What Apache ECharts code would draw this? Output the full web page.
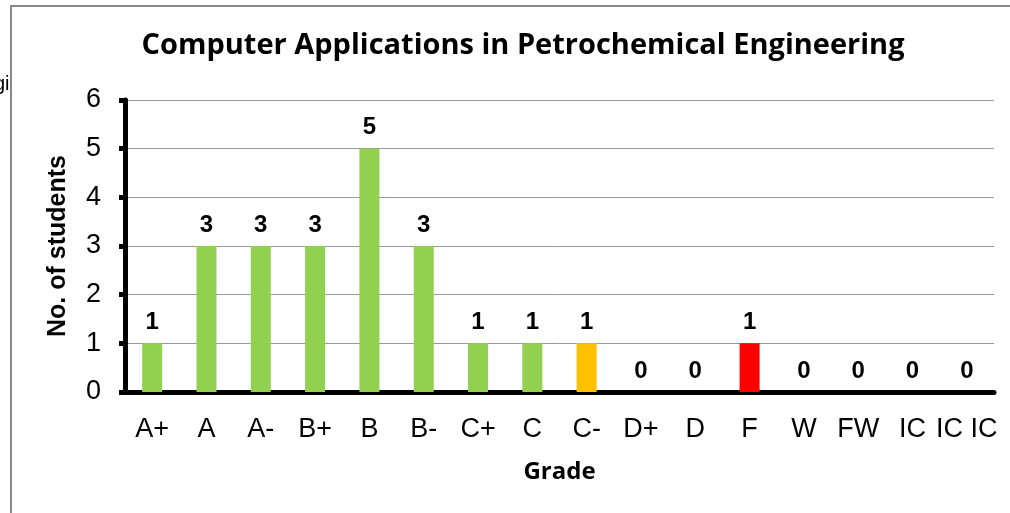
<!DOCTYPE html>
<html>
<head>
<meta charset="utf-8">
<script src="https://cdn.jsdelivr.net/npm/echarts@6/dist/echarts.min.js"></script>
<style>
  html, body { margin: 0; padding: 0; background: #fff; }
  #chart { width: 1010px; height: 513px; }
</style>
</head>
<body>
<div id="chart"></div>
<script>
// grades on x axis (last label in the original sheet reads "IC IC")
const grades = ["A+", "A", "A-", "B+", "B", "B-", "C+", "C", "C-", "D+", "D", "F", "W", "FW", "IC", "IC IC"];
const students = [1, 3, 3, 3, 5, 3, 1, 1, 1, 0, 0, 1, 0, 0, 0, 0];
const yTicks = [0, 1, 2, 3, 4, 5, 6];

const GREEN = "#92D050";
// colour per grade, C- orange and F red like the original
const barColors = { "C-": "#FFC000", "F": "#FF0000" };

const chart = echarts.init(document.getElementById("chart"));

const option = {
  animation: false,
  title: {
    text: "Computer Applications in Petrochemical Engineering",
    left: 518,
    textAlign: "center",
    top: 26,
    textStyle: {
      fontFamily: "Open Sans",
      fontWeight: "bold",
      fontSize: 29,
      color: "#000"
    }
  },
  grid: {
    left: 125,
    right: 16,
    top: 100,
    bottom: 121
  },
  xAxis: {
    type: "category",
    data: grades,
    name: "Grade",
    nameLocation: "middle",
    nameGap: 68,
    nameTextStyle: {
      fontFamily: "Open Sans",
      fontWeight: "bold",
      fontSize: 24,
      color: "#000"
    },
    axisLine: { lineStyle: { color: "#000", width: 5 } },
    axisTick: { alignWithLabel: false, length: 6, lineStyle: { color: "#000", width: 5 } },
    axisLabel: {
      interval: 0,
      margin: 24,
      fontFamily: "Liberation Sans",
      fontSize: 27,
      color: "#000"
    },
    splitLine: { show: false }
  },
  yAxis: {
    type: "value",
    min: yTicks[0],
    max: yTicks[yTicks.length - 1],
    interval: 1,
    name: "No. of students",
    nameLocation: "middle",
    nameGap: 54,
    nameTextStyle: {
      fontFamily: "Liberation Sans",
      fontWeight: "bold",
      fontSize: 25,
      color: "#000"
    },
    axisLine: { show: true, lineStyle: { color: "#000", width: 5 } },
    axisTick: { show: true, length: 6, lineStyle: { color: "#000", width: 5 } },
    axisLabel: {
      margin: 24,
      fontFamily: "Liberation Sans",
      fontSize: 27,
      color: "#000"
    },
    splitLine: { lineStyle: { color: "#999", width: 1 } }
  },
  series: [
    {
      type: "bar",
      barWidth: 20,
      data: students.map((v, i) => ({
        value: v,
        itemStyle: { color: barColors[grades[i]] || GREEN }
      })),
      label: {
        show: true,
        position: "top",
        distance: 9,
        fontFamily: "Liberation Sans",
        fontWeight: "bold",
        fontSize: 24,
        color: "#000"
      }
    }
  ],
  graphic: [
    // sheet frame, the chart was cut from a bigger page
    {
      type: "polyline",
      shape: { points: [[11, 513], [11, 6], [1010, 6]] },
      style: { stroke: "#888", lineWidth: 2, fill: null }
    },
    {
      type: "text",
      left: -6,
      top: 74,
      style: { text: "gi", font: "20px Liberation Sans", fill: "#000" }
    }
  ]
};

chart.setOption(option);
</script>
</body>
</html>
